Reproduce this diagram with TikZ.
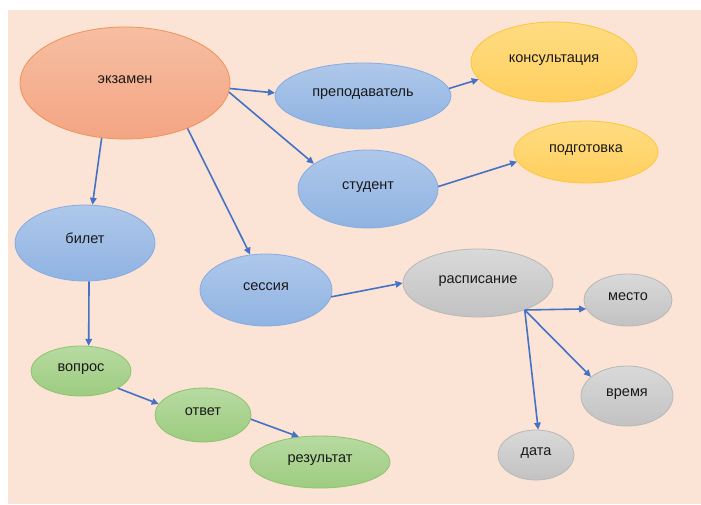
\documentclass[tikz,border=0pt]{standalone}
\usepackage{fontspec}
\setmainfont{Liberation Sans}
\usetikzlibrary{shapes.geometric,arrows.meta}
\definecolor{bgpeach}{HTML}{FBE3D5}
\definecolor{arrowblue}{HTML}{4472C4}
\tikzset{
  bubble/.style={ellipse, inner sep=0pt, text height=4pt, text depth=4pt,
    font=\fontsize{14.5}{16}\selectfont, text=black!90, line width=0.8pt},
  orangeb/.style={bubble, top color=orange1, bottom color=orange2, draw=orange3},
  blueb/.style={bubble, top color=blue1, bottom color=blue2, draw=blue3},
  yellowb/.style={bubble, top color=yellow1, bottom color=yellow2, draw=yellow3},
  greenb/.style={bubble, top color=green1, bottom color=green2, draw=green3},
  grayb/.style={bubble, top color=gray1, bottom color=gray2, draw=gray3},
  conn/.style={draw=arrowblue, line width=1.6pt, -{Triangle[length=7pt,width=6.5pt]}},
}
\definecolor{orange1}{HTML}{F6BEA2}
\definecolor{orange2}{HTML}{F4A583}
\definecolor{orange3}{HTML}{F19256}
\definecolor{blue1}{HTML}{AFC8EA}
\definecolor{blue2}{HTML}{8FB3E2}
\definecolor{blue3}{HTML}{85ACE0}
\definecolor{yellow1}{HTML}{FFDC82}
\definecolor{yellow2}{HTML}{FFCF5E}
\definecolor{yellow3}{HTML}{FCC63C}
\definecolor{green1}{HTML}{B7DAA1}
\definecolor{green2}{HTML}{9DCC80}
\definecolor{green3}{HTML}{8EC46E}
\definecolor{gray1}{HTML}{D9D9D9}
\definecolor{gray2}{HTML}{C2C2C2}
\definecolor{gray3}{HTML}{B8B8B8}
\begin{document}
\begin{tikzpicture}[x=1pt, y=-1pt]
\useasboundingbox (0,0) rectangle (701,504);
\fill[white] (0,0) rectangle (701,504);
\fill[bgpeach] (8,10) rectangle (701,504);

\node[orangeb, minimum width=210pt, minimum height=112pt] (exam) at (125,83) {экзамен};
\node[blueb, minimum width=176pt, minimum height=66pt] (teacher) at (363,96) {преподаватель};
\node[yellowb, minimum width=166pt, minimum height=80pt] (consult) at (554,62) {консультация};
\node[yellowb, minimum width=144pt, minimum height=62pt] (prep) at (586,152) {подготовка};
\node[blueb, minimum width=140pt, minimum height=78pt] (student) at (368,189) {студент};
\node[blueb, minimum width=140pt, minimum height=76pt] (ticket) at (85,243) {билет};
\node[blueb, minimum width=132pt, minimum height=72pt] (session) at (266,290) {сессия};
\node[grayb, minimum width=150pt, minimum height=68pt] (sched) at (478,283) {расписание};
\node[grayb, minimum width=88pt, minimum height=52pt] (place) at (628,300) {место};
\node[grayb, minimum width=92pt, minimum height=60pt] (time) at (627,396) {время};
\node[grayb, minimum width=76pt, minimum height=50pt] (date) at (536,455) {дата};
\node[greenb, minimum width=100pt, minimum height=50pt] (question) at (81,371) {вопрос};
\node[greenb, minimum width=96pt, minimum height=54pt] (answer) at (203,415) {ответ};
\node[greenb, minimum width=140pt, minimum height=52pt] (result) at (320,462) {результат};

\draw[conn] (exam.-3) -- (teacher.178);
\draw[conn] (exam.-5) -- (student.155);
\draw[conn] (exam.-113) -- (ticket.79);
\draw[conn] (exam.-36) -- (session.114);
\draw[conn] (teacher.5) -- (consult.-167);
\draw[conn] (student.2) -- (prep.-172);
\draw[conn] (ticket.-84) -- (question.73);
\draw[conn] (session.-6) -- (sched.180);
\draw[conn] (sched.-30) -- (place.-168);
\draw[conn] (sched.-30) -- (time.152);
\draw[conn] (sched.-30) -- (date.85);
\draw[conn] (question.-25) -- (answer.166);
\draw[conn] (answer.-5) -- (result.130);
\end{tikzpicture}
\end{document}
